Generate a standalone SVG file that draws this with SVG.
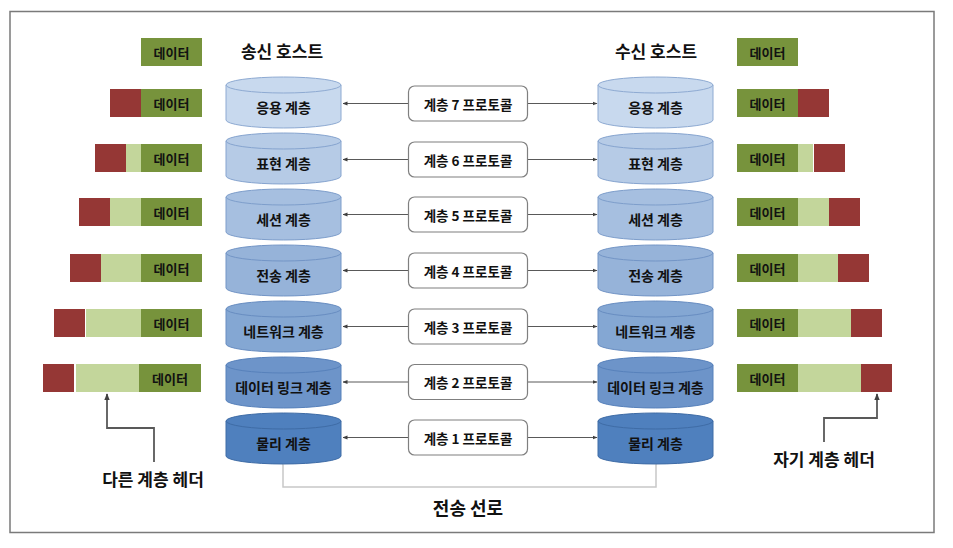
<svg xmlns="http://www.w3.org/2000/svg" width="953" height="548" viewBox="0 0 953 548">
<style>
text{font-family:"Noto Sans CJK KR","Liberation Sans",sans-serif;font-weight:bold;fill:#111;text-anchor:middle;dominant-baseline:central}
.d{font-size:13px}
.c{font-size:14px}
.p{font-size:13.5px}
.h{font-size:17px}
.g{fill:#77933c}
.l{fill:#c3d69b}
.r{fill:#953735}
.pb{fill:#fff;stroke:#7f7f7f;stroke-width:1.2}
.ar{stroke:#595959;stroke-width:1;fill:none;marker-end:url(#ah)}
.hd{stroke:#595959;stroke-width:1.8;fill:none;marker-end:url(#ah2)}
</style>
<defs>
<marker id="ah" viewBox="0 0 10 10" refX="9" refY="5" markerWidth="5" markerHeight="5" orient="auto"><path d="M0,1 L10,5 L0,9 Z" fill="#404040"/></marker>
<marker id="ah2" viewBox="0 0 10 10" refX="9" refY="5" markerWidth="4" markerHeight="4" orient="auto"><path d="M0,1 L10,5 L0,9 Z" fill="#404040"/></marker>
<g id="cyl">
<path d="M0,8 L0,43 A57.5,8 0 0 0 115,43 L115,8 Z"/>
<ellipse cx="57.5" cy="8" rx="57.5" ry="8"/>
</g>
</defs>
<rect x="10" y="11.5" width="924" height="521" fill="#fff" stroke="#7a7a7a" stroke-width="1.5"/>

<g id="title-send"><text class="h" x="282" y="50">송신 호스트</text></g>
<g id="title-recv"><text class="h" x="656" y="50">수신 호스트</text></g>

<g id="connectors">
<path class="ar" d="M408,103.5 H343"/><path class="ar" d="M528,103.5 H597"/>
<path class="ar" d="M408,159.5 H343"/><path class="ar" d="M528,159.5 H597"/>
<path class="ar" d="M408,214.5 H343"/><path class="ar" d="M528,214.5 H597"/>
<path class="ar" d="M408,270.5 H343"/><path class="ar" d="M528,270.5 H597"/>
<path class="ar" d="M408,326.5 H343"/><path class="ar" d="M528,326.5 H597"/>
<path class="ar" d="M408,382 H343"/><path class="ar" d="M528,382 H597"/>
<path class="ar" d="M408,437.5 H343"/><path class="ar" d="M528,437.5 H597"/>
<path d="M283,463 V487 H656 V463" fill="none" stroke="#c8c8c8" stroke-width="1.5"/>
<path class="hd" d="M154,462 V428 H107 V394"/>
<path class="hd" d="M824,442 V418 H877 V394"/>
</g>

<!-- left cylinders -->
<g id="s7"><use href="#cyl" x="226" y="77" fill="#c8d9ee" stroke="#8eaad2"/><text class="c" x="283.5" y="107">응용 계층</text></g>
<g id="s6"><use href="#cyl" x="226" y="133" fill="#b6cbe6" stroke="#86a4cf"/><text class="c" x="283.5" y="163">표현 계층</text></g>
<g id="s5"><use href="#cyl" x="226" y="189" fill="#a6bfe0" stroke="#7e9ecb"/><text class="c" x="283.5" y="219">세션 계층</text></g>
<g id="s4"><use href="#cyl" x="226" y="245" fill="#96b3d9" stroke="#7395c6"/><text class="c" x="283.5" y="275">전송 계층</text></g>
<g id="s3"><use href="#cyl" x="226" y="301" fill="#84a7d3" stroke="#688dc1"/><text class="c" x="283.5" y="331">네트워크 계층</text></g>
<g id="s2"><use href="#cyl" x="226" y="357" fill="#6d94c9" stroke="#5781bb"/><text class="c" x="283.5" y="387">데이터 링크 계층</text></g>
<g id="s1"><use href="#cyl" x="226" y="413" fill="#4f80be" stroke="#3f6ca6"/><text class="c" x="283.5" y="443">물리 계층</text></g>

<!-- right cylinders -->
<g id="r7"><use href="#cyl" x="598" y="77" fill="#c8d9ee" stroke="#8eaad2"/><text class="c" x="655.5" y="107">응용 계층</text></g>
<g id="r6"><use href="#cyl" x="598" y="133" fill="#b6cbe6" stroke="#86a4cf"/><text class="c" x="655.5" y="163">표현 계층</text></g>
<g id="r5"><use href="#cyl" x="598" y="189" fill="#a6bfe0" stroke="#7e9ecb"/><text class="c" x="655.5" y="219">세션 계층</text></g>
<g id="r4"><use href="#cyl" x="598" y="245" fill="#96b3d9" stroke="#7395c6"/><text class="c" x="655.5" y="275">전송 계층</text></g>
<g id="r3"><use href="#cyl" x="598" y="301" fill="#84a7d3" stroke="#688dc1"/><text class="c" x="655.5" y="331">네트워크 계층</text></g>
<g id="r2"><use href="#cyl" x="598" y="357" fill="#6d94c9" stroke="#5781bb"/><text class="c" x="655.5" y="387">데이터 링크 계층</text></g>
<g id="r1"><use href="#cyl" x="598" y="413" fill="#4f80be" stroke="#3f6ca6"/><text class="c" x="655.5" y="443">물리 계층</text></g>

<!-- protocol boxes -->
<g id="p7"><rect class="pb" x="408.5" y="86" width="119" height="35" rx="6"/><text class="p" x="468" y="103.5">계층 7 프로토콜</text></g>
<g id="p6"><rect class="pb" x="408.5" y="142" width="119" height="35" rx="6"/><text class="p" x="468" y="159.5">계층 6 프로토콜</text></g>
<g id="p5"><rect class="pb" x="408.5" y="197" width="119" height="35" rx="6"/><text class="p" x="468" y="214.5">계층 5 프로토콜</text></g>
<g id="p4"><rect class="pb" x="408.5" y="253" width="119" height="35" rx="6"/><text class="p" x="468" y="270.5">계층 4 프로토콜</text></g>
<g id="p3"><rect class="pb" x="408.5" y="309" width="119" height="35" rx="6"/><text class="p" x="468" y="326.5">계층 3 프로토콜</text></g>
<g id="p2"><rect class="pb" x="408.5" y="364.5" width="119" height="35" rx="6"/><text class="p" x="468" y="382">계층 2 프로토콜</text></g>
<g id="p1"><rect class="pb" x="408.5" y="420" width="119" height="35" rx="6"/><text class="p" x="468" y="437.5">계층 1 프로토콜</text></g>

<!-- left data packets -->
<g id="ld0"><rect class="g" x="141" y="38" width="61" height="28"/><text class="d" x="171.5" y="52">데이터</text></g>
<g id="ld1"><rect class="r" x="110" y="89" width="31" height="28"/><rect class="g" x="141" y="89" width="61" height="28"/><text class="d" x="171.5" y="103">데이터</text></g>
<g id="ld2"><rect class="r" x="95" y="144" width="31" height="28"/><rect class="l" x="126" y="144" width="15" height="28"/><rect class="g" x="141" y="144" width="61" height="28"/><text class="d" x="171.5" y="158">데이터</text></g>
<g id="ld3"><rect class="r" x="79" y="198" width="31" height="28"/><rect class="l" x="110" y="198" width="31" height="28"/><rect class="g" x="141" y="198" width="61" height="28"/><text class="d" x="171.5" y="212">데이터</text></g>
<g id="ld4"><rect class="r" x="70" y="254" width="31" height="28"/><rect class="l" x="101" y="254" width="40" height="28"/><rect class="g" x="141" y="254" width="61" height="28"/><text class="d" x="171.5" y="268">데이터</text></g>
<g id="ld5"><rect class="r" x="54" y="309" width="31" height="28"/><rect class="l" x="86" y="309" width="55" height="28"/><rect class="g" x="141" y="309" width="61" height="28"/><text class="d" x="171.5" y="323">데이터</text></g>
<g id="ld6"><rect class="r" x="43" y="364" width="31" height="28"/><rect class="l" x="76" y="364" width="63" height="28"/><rect class="g" x="139" y="364" width="62" height="28"/><text class="d" x="170" y="378">데이터</text></g>

<!-- right data packets -->
<g id="rd0"><rect class="g" x="737" y="38" width="61" height="28"/><text class="d" x="767.5" y="52">데이터</text></g>
<g id="rd1"><rect class="g" x="737" y="89" width="61" height="28"/><rect class="r" x="798" y="89" width="31" height="28"/><text class="d" x="767.5" y="103">데이터</text></g>
<g id="rd2"><rect class="g" x="737" y="144" width="61" height="28"/><rect class="l" x="798" y="144" width="15" height="28"/><rect class="r" x="814" y="144" width="31" height="28"/><text class="d" x="767.5" y="158">데이터</text></g>
<g id="rd3"><rect class="g" x="737" y="198" width="61" height="28"/><rect class="l" x="798" y="198" width="31" height="28"/><rect class="r" x="829" y="198" width="31" height="28"/><text class="d" x="767.5" y="212">데이터</text></g>
<g id="rd4"><rect class="g" x="737" y="254" width="61" height="28"/><rect class="l" x="798" y="254" width="40" height="28"/><rect class="r" x="838" y="254" width="31" height="28"/><text class="d" x="767.5" y="268">데이터</text></g>
<g id="rd5"><rect class="g" x="737" y="309" width="61" height="28"/><rect class="l" x="798" y="309" width="53" height="28"/><rect class="r" x="851" y="309" width="31" height="28"/><text class="d" x="767.5" y="323">데이터</text></g>
<g id="rd6"><rect class="g" x="737" y="364" width="61" height="28"/><rect class="l" x="798" y="364" width="63" height="28"/><rect class="r" x="861" y="364" width="31" height="28"/><text class="d" x="767.5" y="378">데이터</text></g>

<g id="lbl-other"><text class="h" x="153" y="478">다른 계층 헤더</text></g>
<g id="lbl-self"><text class="h" x="824" y="458">자기 계층 헤더</text></g>
<g id="lbl-line"><text class="h" x="468" y="507" style="font-size:18px">전송 선로</text></g>
</svg>
